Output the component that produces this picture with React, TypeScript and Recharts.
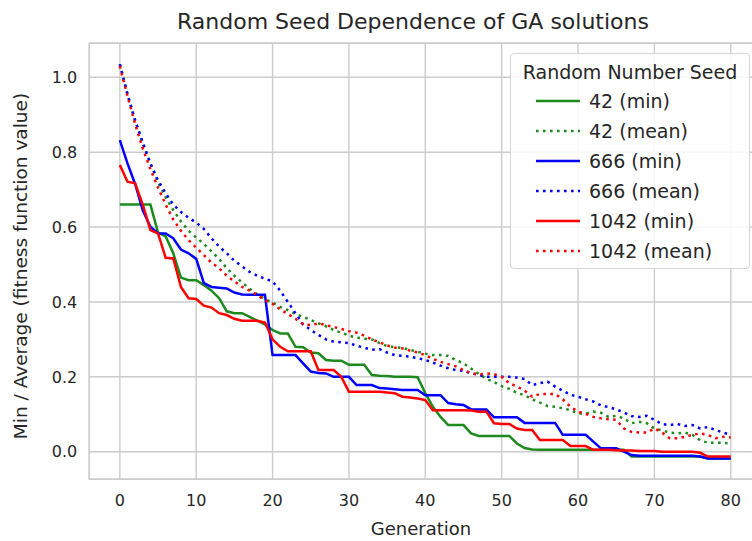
import {
  CartesianGrid,
  Legend,
  Line,
  LineChart,
  ReferenceArea,
  XAxis,
  YAxis,
} from "recharts";

// generations 0..80
const generations = Array.from({ length: 81 }, (_, i) => i);

// seed 42
const min42 = [
  0.66, 0.66, 0.66, 0.66, 0.66, 0.585, 0.575, 0.53, 0.465, 0.458,
  0.458, 0.445, 0.43, 0.41, 0.375, 0.37, 0.37, 0.36, 0.35, 0.34,
  0.325, 0.316, 0.316, 0.28, 0.279, 0.265, 0.263, 0.245, 0.243, 0.243,
  0.232, 0.232, 0.232, 0.205, 0.203, 0.202, 0.2, 0.2, 0.2, 0.199,
  0.156, 0.12, 0.093, 0.071, 0.071, 0.071, 0.049, 0.042, 0.042, 0.042,
  0.042, 0.042, 0.022, 0.01, 0.006, 0.005, 0.005, 0.005, 0.005, 0.005,
  0.005, 0.005, 0.005, 0.005, 0.005, 0.005, 0.005, -0.013, -0.013, -0.013,
  -0.013, -0.013, -0.013, -0.013, -0.013, -0.013, -0.013, -0.018, -0.018, -0.018,
  -0.018,
];
const mean42 = [
  1.035, 0.955, 0.885, 0.825, 0.77, 0.72, 0.68, 0.645, 0.615, 0.59,
  0.572, 0.555, 0.535, 0.515, 0.49, 0.47, 0.452, 0.435, 0.42, 0.408,
  0.398, 0.387, 0.378, 0.368, 0.36, 0.352, 0.343, 0.335, 0.325, 0.318,
  0.31, 0.305, 0.302, 0.3, 0.29, 0.282, 0.279, 0.277, 0.272, 0.267,
  0.262, 0.258, 0.258, 0.256, 0.245, 0.236, 0.222, 0.208, 0.195, 0.186,
  0.175, 0.168, 0.157, 0.151, 0.14, 0.131, 0.122, 0.12, 0.116, 0.111,
  0.102, 0.102, 0.107, 0.104, 0.093, 0.096, 0.089, 0.076, 0.08, 0.076,
  0.062, 0.057, 0.051, 0.049, 0.051, 0.045, 0.03, 0.024, 0.024, 0.024,
  0.021,
];

// seed 666
const min666 = [
  0.832, 0.77, 0.715, 0.645, 0.601, 0.583, 0.583, 0.57, 0.54, 0.53,
  0.515, 0.45, 0.44, 0.438, 0.436, 0.425, 0.42, 0.419, 0.419, 0.419,
  0.258, 0.258, 0.258, 0.258, 0.236, 0.214, 0.21, 0.209, 0.2, 0.2,
  0.2, 0.178, 0.178, 0.178, 0.17, 0.169, 0.167, 0.165, 0.165, 0.165,
  0.151, 0.151, 0.151, 0.13, 0.127, 0.125, 0.113, 0.113, 0.113, 0.092,
  0.092, 0.092, 0.092, 0.077, 0.077, 0.077, 0.077, 0.077, 0.045, 0.045,
  0.045, 0.045, 0.027, 0.009, 0.009, 0.009, 0.0, -0.009, -0.011, -0.011,
  -0.011, -0.011, -0.011, -0.011, -0.011, -0.011, -0.013, -0.018, -0.018, -0.018,
  -0.018,
];
const mean666 = [
  1.035, 0.955, 0.885, 0.825, 0.77, 0.725, 0.69, 0.66, 0.64, 0.625,
  0.612, 0.595, 0.57, 0.548, 0.53, 0.51, 0.495, 0.48, 0.47, 0.462,
  0.455, 0.43, 0.4, 0.37, 0.34, 0.325, 0.312, 0.3, 0.294, 0.292,
  0.29, 0.283, 0.278, 0.272, 0.274, 0.265, 0.258, 0.256, 0.254, 0.25,
  0.245, 0.238, 0.23, 0.223, 0.218, 0.216, 0.209, 0.205, 0.2, 0.2,
  0.2, 0.2, 0.198, 0.194, 0.178, 0.183, 0.187, 0.174, 0.163, 0.152,
  0.147, 0.14, 0.134, 0.124, 0.119, 0.113, 0.105, 0.095, 0.093, 0.096,
  0.085, 0.074, 0.071, 0.074, 0.069, 0.071, 0.062, 0.066, 0.058, 0.051,
  0.045,
];

// seed 1042
const min1042 = [
  0.766, 0.721, 0.717, 0.66, 0.592, 0.583, 0.518, 0.516, 0.44, 0.41,
  0.408, 0.39, 0.385, 0.37, 0.365, 0.355, 0.35, 0.35, 0.35, 0.345,
  0.3, 0.28, 0.268, 0.268, 0.268, 0.268, 0.218, 0.218, 0.218, 0.2,
  0.16, 0.16, 0.16, 0.16, 0.16, 0.158, 0.156, 0.147, 0.145, 0.142,
  0.138, 0.111, 0.111, 0.111, 0.111, 0.111, 0.11, 0.107, 0.107, 0.076,
  0.074, 0.074, 0.062, 0.058, 0.058, 0.031, 0.031, 0.031, 0.031, 0.015,
  0.015, 0.015, 0.005, 0.005, 0.005, 0.004, 0.003, 0.003, 0.002, 0.002,
  0.002, 0.0, 0.0, 0.0, 0.0, 0.0, -0.003, -0.013, -0.013, -0.013,
  -0.013,
];
const mean1042 = [
  1.03, 0.95, 0.875, 0.81, 0.755, 0.705, 0.66, 0.62, 0.59, 0.565,
  0.545, 0.525, 0.505, 0.49, 0.47, 0.455, 0.44, 0.43, 0.418, 0.405,
  0.395, 0.38, 0.368, 0.355, 0.34, 0.338, 0.343, 0.338, 0.333, 0.328,
  0.322, 0.318, 0.31, 0.3, 0.292, 0.284, 0.278, 0.276, 0.27, 0.265,
  0.258, 0.248, 0.24, 0.234, 0.228, 0.218, 0.21, 0.206, 0.209, 0.207,
  0.2, 0.183, 0.174, 0.163, 0.147, 0.154, 0.154, 0.154, 0.14, 0.12,
  0.107, 0.101, 0.093, 0.089, 0.087, 0.085, 0.062, 0.053, 0.051, 0.051,
  0.062, 0.051, 0.036, 0.036, 0.04, 0.045, 0.049, 0.045, 0.036, 0.04,
  0.038,
];

const xTicks = [0, 10, 20, 30, 40, 50, 60, 70, 80];
const yTicks = [0, 0.2, 0.4, 0.6, 0.8, 1.0];

const GREEN = "#1c8a1c";
const BLUE = "#0000ff";
const RED = "#ff0000";
const GRID = "#cccccc";
const TEXT = "#262626";
const FONT = "'DejaVu Sans', sans-serif";
const DOTS = "2.6 4.4";

const X_DOMAIN = [-4, 84];
const Y_DOMAIN = [-0.0737, 1.0908];

const series = [
  { key: "min42", name: "42 (min)", color: GREEN, dotted: false },
  { key: "mean42", name: "42 (mean)", color: GREEN, dotted: true },
  { key: "min666", name: "666 (min)", color: BLUE, dotted: false },
  { key: "mean666", name: "666 (mean)", color: BLUE, dotted: true },
  { key: "min1042", name: "1042 (min)", color: RED, dotted: false },
  { key: "mean1042", name: "1042 (mean)", color: RED, dotted: true },
];

const data = generations.map((g, i) => ({
  g,
  min42: min42[i],
  mean42: mean42[i],
  min666: min666[i],
  mean666: mean666[i],
  min1042: min1042[i],
  mean1042: mean1042[i],
}));

function SeedLegend() {
  return (
    <div
      style={{
        boxSizing: "border-box",
        width: 240,
        height: 216,
        border: "1.3px solid #d6d6d6",
        borderRadius: 4,
        background: "rgba(255,255,255,0.85)",
        fontFamily: FONT,
        color: TEXT,
        position: "relative",
      }}
    >
      <div
        style={{
          position: "absolute",
          left: 0,
          width: "100%",
          top: 6,
          textAlign: "center",
          fontSize: 19,
          lineHeight: "24px",
        }}
      >
        Random Number Seed
      </div>
      {series.map((s, i) => (
        <div
          key={s.key}
          style={{
            position: "absolute",
            left: 0,
            top: 35 + i * 30,
            height: 24,
            display: "flex",
            alignItems: "center",
          }}
        >
          <svg width={78} height={24}>
            <line
              x1={25}
              x2={69}
              y1={12}
              y2={12}
              stroke={s.color}
              strokeWidth={2.6}
              strokeDasharray={s.dotted ? DOTS : undefined}
            />
          </svg>
          <span style={{ fontSize: 19, whiteSpace: "nowrap" }}>{s.name}</span>
        </div>
      ))}
    </div>
  );
}

export default function App() {
  return (
    <div
      style={{
        position: "absolute",
        left: 0,
        top: 0,
        width: 752,
        height: 541,
        overflow: "hidden",
        background: "#fff",
        fontFamily: FONT,
      }}
    >
      <div
        style={{
          position: "absolute",
          left: 0,
          width: 826,
          top: 8,
          textAlign: "center",
          fontSize: 22,
          color: TEXT,
          lineHeight: "28px",
        }}
      >
        Random Seed Dependence of GA solutions
      </div>
      <div
        style={{
          position: "absolute",
          left: 0,
          width: 842,
          top: 517,
          textAlign: "center",
          fontSize: 18,
          color: TEXT,
          lineHeight: "24px",
        }}
      >
        Generation
      </div>
      <div
        style={{
          position: "absolute",
          left: 21,
          top: 266,
          transform: "translate(-50%, -50%) rotate(-90deg)",
          fontSize: 18.5,
          color: TEXT,
          whiteSpace: "nowrap",
          lineHeight: "24px",
        }}
      >
        Min / Average (fitness function value)
      </div>
      <div style={{ position: "absolute", left: 0, top: 0 }}>
        <LineChart
          width={780}
          height={541}
          data={data}
          margin={{ top: 43.3, right: 18.7, bottom: 31.7, left: 29.3 }}
        >
          <CartesianGrid stroke={GRID} strokeWidth={1.4} />
          <XAxis
            dataKey="g"
            type="number"
            domain={X_DOMAIN}
            ticks={xTicks}
            allowDataOverflow
            height={30}
            tickSize={0}
            tickMargin={15}
            tickLine={false}
            axisLine={false}
            tick={{ fontSize: 16, fill: TEXT, fontFamily: FONT }}
          />
          <YAxis
            type="number"
            domain={Y_DOMAIN}
            ticks={yTicks}
            allowDataOverflow
            width={60}
            tickSize={0}
            tickMargin={12}
            tickLine={false}
            axisLine={false}
            tickFormatter={(v: number) => v.toFixed(1)}
            tick={{ fontSize: 16, fill: TEXT, fontFamily: FONT }}
          />
          <ReferenceArea
            x1={X_DOMAIN[0]}
            x2={X_DOMAIN[1]}
            y1={Y_DOMAIN[0]}
            y2={Y_DOMAIN[1]}
            fill="none"
            stroke={GRID}
            strokeWidth={1.5}
            ifOverflow="visible"
          />
          {series.map((s) => (
            <Line
              key={s.key}
              type="linear"
              dataKey={s.key}
              name={s.name}
              stroke={s.color}
              strokeWidth={2.5}
              strokeDasharray={s.dotted ? DOTS : undefined}
              dot={false}
              activeDot={false}
              isAnimationActive={false}
            />
          ))}
          <Legend
            layout="horizontal"
            verticalAlign="middle"
            align="center"
            content={() => <SeedLegend />}
            wrapperStyle={{ position: "absolute", left: 510, top: 53, width: 240, height: 216 }}
          />
        </LineChart>
      </div>
    </div>
  );
}
